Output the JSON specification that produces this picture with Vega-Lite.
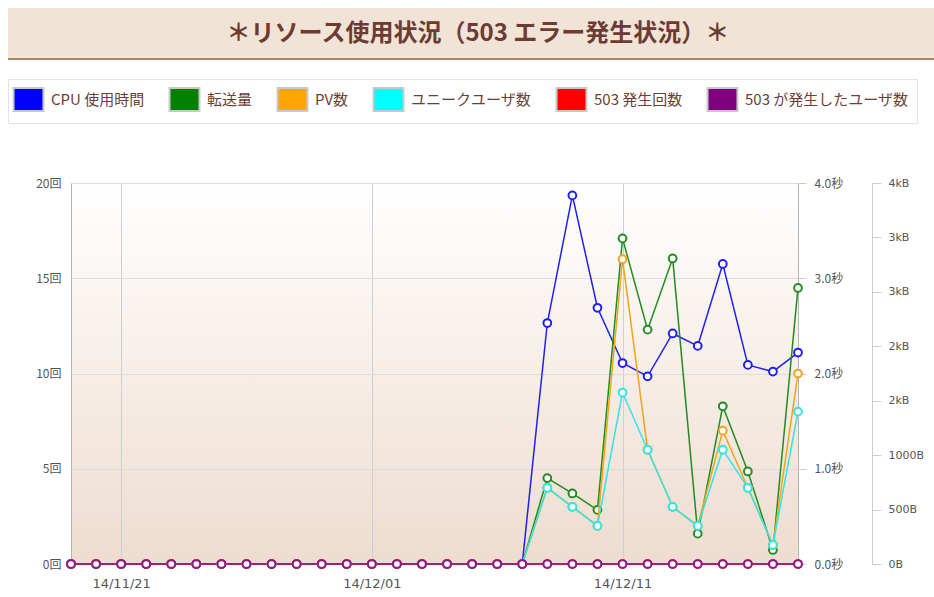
{
  "$schema": "https://vega.github.io/schema/vega-lite/v6.json",
  "background": "white",
  "padding": {"left": 7, "top": 8, "right": 0, "bottom": 0},
  "spacing": 116,
  "config": {
    "view": {"stroke": null},
    "axis": {"labelFont": "Noto Sans CJK JP", "labelFontSize": 12, "labelColor": "#555555"}
  },
  "vconcat": [
    {
      "width": 864,
      "height": 51,
      "view": {"stroke": null},
      "data": {"values": [{"t": "＊リソース使用状況（503 エラー発生状況）＊"}]},
      "layer": [
        {
          "mark": {"type": "rect", "color": "#f1e3d5"},
          "encoding": {
            "x": {"datum": -0.0729, "type": "quantitative", "scale": {"domain": [0, 1]}, "axis": null},
            "x2": {"datum": 1},
            "y": {"datum": 0, "type": "quantitative", "scale": {"domain": [0, 1]}, "axis": null},
            "y2": {"datum": 1}
          }
        },
        {
          "mark": {"type": "rule", "color": "#a8876c", "strokeWidth": 2},
          "encoding": {
            "x": {"datum": -0.0729, "type": "quantitative"},
            "x2": {"datum": 1},
            "y": {"datum": 0, "type": "quantitative"}
          }
        },
        {
          "mark": {"type": "text", "font": "Noto Sans CJK JP", "fontSize": 24, "fontWeight": "bold", "color": "#6b3b34"},
          "encoding": {
            "text": {"field": "t"},
            "x": {"datum": 0.471, "type": "quantitative"},
            "y": {"datum": 0.5, "type": "quantitative"}
          }
        }
      ]
    },
    {
      "width": 727,
      "height": 381,
      "view": {
        "stroke": "#b4b4b4",
        "fill": {"gradient": "linear", "x1": 0, "y1": 0, "x2": 0, "y2": 1,
                 "stops": [{"offset": 0, "color": "#ffffff"}, {"offset": 1, "color": "#eedccf"}]}
      },
      "data": {"values": [
        {"d": "14/11/19", "cpu": 0, "tr": 0, "PV数": 0, "ユニークユーザ数": 0, "503 発生回数": 0, "503 が発生したユーザ数": 0},
        {"d": "14/11/20", "cpu": 0, "tr": 0, "PV数": 0, "ユニークユーザ数": 0, "503 発生回数": 0, "503 が発生したユーザ数": 0},
        {"d": "14/11/21", "cpu": 0, "tr": 0, "PV数": 0, "ユニークユーザ数": 0, "503 発生回数": 0, "503 が発生したユーザ数": 0},
        {"d": "14/11/22", "cpu": 0, "tr": 0, "PV数": 0, "ユニークユーザ数": 0, "503 発生回数": 0, "503 が発生したユーザ数": 0},
        {"d": "14/11/23", "cpu": 0, "tr": 0, "PV数": 0, "ユニークユーザ数": 0, "503 発生回数": 0, "503 が発生したユーザ数": 0},
        {"d": "14/11/24", "cpu": 0, "tr": 0, "PV数": 0, "ユニークユーザ数": 0, "503 発生回数": 0, "503 が発生したユーザ数": 0},
        {"d": "14/11/25", "cpu": 0, "tr": 0, "PV数": 0, "ユニークユーザ数": 0, "503 発生回数": 0, "503 が発生したユーザ数": 0},
        {"d": "14/11/26", "cpu": 0, "tr": 0, "PV数": 0, "ユニークユーザ数": 0, "503 発生回数": 0, "503 が発生したユーザ数": 0},
        {"d": "14/11/27", "cpu": 0, "tr": 0, "PV数": 0, "ユニークユーザ数": 0, "503 発生回数": 0, "503 が発生したユーザ数": 0},
        {"d": "14/11/28", "cpu": 0, "tr": 0, "PV数": 0, "ユニークユーザ数": 0, "503 発生回数": 0, "503 が発生したユーザ数": 0},
        {"d": "14/11/29", "cpu": 0, "tr": 0, "PV数": 0, "ユニークユーザ数": 0, "503 発生回数": 0, "503 が発生したユーザ数": 0},
        {"d": "14/11/30", "cpu": 0, "tr": 0, "PV数": 0, "ユニークユーザ数": 0, "503 発生回数": 0, "503 が発生したユーザ数": 0},
        {"d": "14/12/01", "cpu": 0, "tr": 0, "PV数": 0, "ユニークユーザ数": 0, "503 発生回数": 0, "503 が発生したユーザ数": 0},
        {"d": "14/12/02", "cpu": 0, "tr": 0, "PV数": 0, "ユニークユーザ数": 0, "503 発生回数": 0, "503 が発生したユーザ数": 0},
        {"d": "14/12/03", "cpu": 0, "tr": 0, "PV数": 0, "ユニークユーザ数": 0, "503 発生回数": 0, "503 が発生したユーザ数": 0},
        {"d": "14/12/04", "cpu": 0, "tr": 0, "PV数": 0, "ユニークユーザ数": 0, "503 発生回数": 0, "503 が発生したユーザ数": 0},
        {"d": "14/12/05", "cpu": 0, "tr": 0, "PV数": 0, "ユニークユーザ数": 0, "503 発生回数": 0, "503 が発生したユーザ数": 0},
        {"d": "14/12/06", "cpu": 0, "tr": 0, "PV数": 0, "ユニークユーザ数": 0, "503 発生回数": 0, "503 が発生したユーザ数": 0},
        {"d": "14/12/07", "cpu": 0, "tr": 0, "PV数": 0, "ユニークユーザ数": 0, "503 発生回数": 0, "503 が発生したユーザ数": 0},
        {"d": "14/12/08", "cpu": 2.53, "tr": 789, "PV数": 4, "ユニークユーザ数": 4, "503 発生回数": 0, "503 が発生したユーザ数": 0},
        {"d": "14/12/09", "cpu": 3.87, "tr": 648, "PV数": 3, "ユニークユーザ数": 3, "503 発生回数": 0, "503 が発生したユーザ数": 0},
        {"d": "14/12/10", "cpu": 2.69, "tr": 497, "PV数": 2, "ユニークユーザ数": 2, "503 発生回数": 0, "503 が発生したユーザ数": 0},
        {"d": "14/12/11", "cpu": 2.11, "tr": 2991, "PV数": 16, "ユニークユーザ数": 9, "503 発生回数": 0, "503 が発生したユーザ数": 0},
        {"d": "14/12/12", "cpu": 1.97, "tr": 2153, "PV数": 6, "ユニークユーザ数": 6, "503 発生回数": 0, "503 が発生したユーザ数": 0},
        {"d": "14/12/13", "cpu": 2.42, "tr": 2807, "PV数": 3, "ユニークユーザ数": 3, "503 発生回数": 0, "503 が発生したユーザ数": 0},
        {"d": "14/12/14", "cpu": 2.29, "tr": 279, "PV数": 2, "ユニークユーザ数": 2, "503 発生回数": 0, "503 が発生したユーザ数": 0},
        {"d": "14/12/15", "cpu": 3.15, "tr": 1449, "PV数": 7, "ユニークユーザ数": 6, "503 発生回数": 0, "503 が発生したユーザ数": 0},
        {"d": "14/12/16", "cpu": 2.09, "tr": 850, "PV数": 4, "ユニークユーザ数": 4, "503 発生回数": 0, "503 が発生したユーザ数": 0},
        {"d": "14/12/17", "cpu": 2.02, "tr": 129, "PV数": 1, "ユニークユーザ数": 1, "503 発生回数": 0, "503 が発生したユーザ数": 0},
        {"d": "14/12/18", "cpu": 2.22, "tr": 2536, "PV数": 10, "ユニークユーザ数": 8, "503 発生回数": 0, "503 が発生したユーザ数": 0}
      ]},
      "resolve": {"scale": {"y": "independent"}},
      "layer": [
        {
          "transform": [{"filter": "false"}],
          "mark": {"type": "square"},
          "encoding": {
            "fill": {
              "field": "s", "type": "nominal",
              "scale": {
                "domain": ["CPU 使用時間", "転送量", "PV数", "ユニークユーザ数", "503 発生回数", "503 が発生したユーザ数"],
                "range": ["#0000ff", "#008000", "#ffa500", "#00ffff", "#ff0000", "#800080"]
              },
              "legend": {
                "title": null, "orient": "none", "legendX": -63, "legendY": 71,
                "direction": "horizontal", "columns": 6,
                "symbolType": "M-1.3,-1H1.3V1H-1.3Z", "symbolSize": 529,
                "symbolStrokeColor": "#c8c8c8", "symbolStrokeWidth": 2, "symbolOpacity": 1,
                "labelFont": "Noto Sans CJK JP", "labelFontSize": 15, "labelColor": "#6b3f37", "labelLimit": 300,
                "labelOffset": 10, "columnPadding": 20, "padding": 8,
                "fillColor": "#ffffff", "strokeColor": "#e3e3e3"
              }
            }
          }
        },
        {
          "mark": {"type": "line", "color": "#1f1ff5", "strokeWidth": 1.5,
                   "point": {"filled": false, "fill": "#ffffff", "size": 60, "strokeWidth": 2, "color": "#1f1ff5"}},
          "encoding": {
            "x": {"field": "d", "type": "ordinal", "scale": {"type": "point", "padding": 0},
                  "axis": {"values": ["14/11/21", "14/12/01", "14/12/11"], "grid": true, "gridColor": "#cfcfcf",
                           "ticks": false, "domain": false, "labelAngle": 0, "labelFont": "DejaVu Sans",
                           "labelFontSize": 13, "labelPadding": 13, "title": null}},
            "y": {"field": "cpu", "type": "quantitative", "scale": {"domain": [0, 4]},
                  "axis": {"orient": "right", "values": [0, 1, 2, 3, 4], "format": ".1f", "labelExpr": "datum.label + '秒'",
                           "grid": false, "domain": false, "tickColor": "#cccccc", "tickSize": 8, "labelPadding": 8,
                           "title": null}}
          }
        },
        {
          "mark": {"type": "line", "color": "#228b22", "strokeWidth": 1.5,
                   "point": {"filled": false, "fill": "#ffffff", "size": 60, "strokeWidth": 2, "color": "#228b22"}},
          "encoding": {
            "x": {"field": "d", "type": "ordinal", "scale": {"type": "point", "padding": 0}},
            "y": {"field": "tr", "type": "quantitative", "scale": {"domain": [0, 3500]},
                  "axis": {"orient": "right", "offset": 74, "values": [0, 500, 1000, 1500, 2000, 2500, 3000, 3500],
                           "labelExpr": "datum.value <= 1000 ? datum.value + 'B' : round(datum.value / 1000) + 'kB'",
                           "grid": false, "domainColor": "#cccccc", "tickColor": "#cccccc", "tickSize": 9,
                           "labelPadding": 7, "title": null, "labelFont": "DejaVu Sans", "labelFontSize": 11}}
          }
        },
        {
          "transform": [{"fold": ["PV数", "ユニークユーザ数", "503 発生回数", "503 が発生したユーザ数"], "as": ["s", "v"]}],
          "mark": {"type": "line", "strokeWidth": 1.5,
                   "point": {"filled": false, "fill": "#ffffff", "size": 60, "strokeWidth": 2}},
          "encoding": {
            "x": {"field": "d", "type": "ordinal", "scale": {"type": "point", "padding": 0}},
            "y": {"field": "v", "type": "quantitative", "scale": {"domain": [0, 20]},
                  "axis": {"orient": "left", "values": [0, 5, 10, 15, 20], "labelExpr": "datum.value + '回'",
                           "grid": true, "gridColor": "#dcdcdc", "ticks": false, "domain": false,
                           "labelPadding": 10, "title": null, "minExtent": 63, "maxExtent": 63}},
            "color": {"field": "s", "type": "nominal", "legend": null,
                      "scale": {"domain": ["PV数", "ユニークユーザ数", "503 発生回数", "503 が発生したユーザ数"],
                                "range": ["#f5a31a", "#2ee6e6", "#ff0000", "#8b1a8b"]}}
          }
        }
      ]
    }
  ]
}
